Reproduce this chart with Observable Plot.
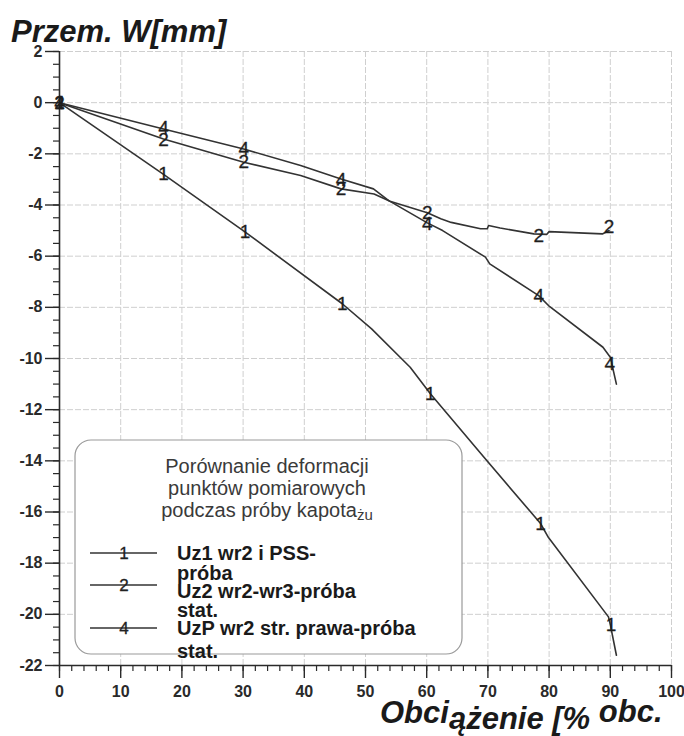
<!DOCTYPE html>
<html><head><meta charset="utf-8">
<script src="https://cdn.jsdelivr.net/npm/d3@7"></script>
<script src="https://cdn.jsdelivr.net/npm/@observablehq/plot@0.6"></script>
<style>
body{margin:0;background:#fff;font-family:"Liberation Sans",Arial,sans-serif;}
#wrap{position:relative;width:684px;height:736px;overflow:hidden;background:#fff}
#title{height:45px;box-sizing:border-box;padding:16px 0 0 11px;font:italic bold 31px "Liberation Sans",Arial,sans-serif;line-height:31px;color:#1a1a1a;white-space:nowrap}
</style></head><body>
<div id="wrap"><div id="title">Przem. W[mm]</div><div id="chart"></div></div>
<script>
// ---- tick labels ----
const xTicks = [0,10,20,30,40,50,60,70,80,90,100];
const yTicks = [2,0,-2,-4,-6,-8,-10,-12,-14,-16,-18,-20,-22];

// ---- series ----
const seriesIds = ["1","2","4"];
const seriesNames = [["Uz1 wr2 i PSS-","próba"],["Uz2 wr2-wr3-próba","stat."],["UzP wr2 str. prawa-próba","stat."]];
const legendTitle = ["Porównanie deformacji","punktów pomiarowych","podczas próby kapota"];
const legendTitleSub = "żu";
const xLabelParts = ["Obci","ążenie [%"," obc."];

const s1X = [0,17,30.3,46.2,51,57.3,60.6,69.5,78.6,79.9,89.7,90,91];
const s1Y = [0,-2.8,-5.05,-7.86,-8.84,-10.34,-11.38,-13.9,-16.45,-17.0,-20.1,-20.4,-21.6];
const s2X = [0,17,30.1,39.4,46,51.4,54,60.1,62.3,64,68.8,69.9,70.1,72,77.5,79.6,80,88.7,89.8];
const s2Y = [0,-1.42,-2.33,-2.85,-3.37,-3.57,-3.85,-4.3,-4.54,-4.68,-4.93,-4.93,-4.8,-4.9,-5.13,-5.15,-5.04,-5.13,-5.0];
const s4X = [0,17,30.1,39.4,46,51.3,53.8,60.1,62.6,69.6,70.3,78.3,79.9,88.8,90,91];
const s4Y = [0,-1.03,-1.81,-2.46,-2.98,-3.37,-3.83,-4.7,-5.0,-6.04,-6.3,-7.54,-7.93,-9.56,-9.95,-11.0];

// ---- number markers on the curves ----
const m1X = [0,17,30.3,46.2,60.6,78.6,90.1];
const m1Y = [0,-2.8,-5.05,-7.86,-11.38,-16.45,-20.4];
const m2X = [0,17,30.1,46,60.1,78.3,89.8];
const m2Y = [0,-1.45,-2.33,-3.37,-4.3,-5.2,-4.85];
const m4X = [0,17,30.1,46,60.1,78.3,89.9];
const m4Y = [0,-1.0,-1.82,-3.0,-4.72,-7.55,-10.2];

const seriesX = [s1X,s2X,s4X], seriesY = [s1Y,s2Y,s4Y];
const markX = [m1X,m2X,m4X], markY = [m1Y,m2Y,m4Y];

const lineRows = seriesIds.flatMap((id,i)=>seriesX[i].map((x,j)=>({x, y:seriesY[i][j], id})));
// draw order 1,4,2 so "2" sits on top at origin
const markOrder = [0,2,1];
const markRows = markOrder.flatMap(i=>markX[i].map((x,j)=>({x, y:markY[i][j], id:seriesIds[i]})));

const FONT = "'Liberation Sans', Arial, sans-serif";
const INK = "#2a2a2a";

const plot = Plot.plot({
  width:684, height:691,
  marginTop:6, marginBottom:71, marginLeft:59, marginRight:13,
  style:{fontFamily:FONT, background:"white", overflow:"visible"},
  x:{domain:[0,100], label:null},
  y:{domain:[-22,2], label:null},
  marks:[
    Plot.gridX(xTicks.slice(1), {stroke:"#cfcfcf", strokeOpacity:1, strokeDasharray:"6,2"}),
    Plot.gridY(yTicks.slice(0,-1), {stroke:"#cfcfcf", strokeOpacity:1, strokeDasharray:"6,2"}),
    Plot.axisY(d3.range(-22,2.001,0.5), {tickSize:6, text:null, stroke:INK, strokeWidth:1.2, label:null}),
    Plot.axisY(yTicks, {tickSize:14, text:null, stroke:INK, strokeWidth:1.4, label:null}),
    Plot.axisX(d3.range(0,100.001,2), {tickSize:6, text:null, stroke:INK, strokeWidth:1.2, label:null}),
    Plot.axisX(xTicks, {tickSize:13, text:null, stroke:INK, strokeWidth:1.4, label:null}),
    // tick labels
    Plot.text(yTicks, {y:d=>d, text:d=>String(d), frameAnchor:"left", textAnchor:"end", dx:-17,
      fontSize:16, fontWeight:"bold", fill:INK}),
    Plot.text(xTicks, {x:d=>d, text:d=>String(d), frameAnchor:"bottom", lineAnchor:"top", dy:20,
      fontSize:16, fontWeight:"bold", fill:INK}),
    Plot.ruleX([0], {stroke:INK, strokeWidth:1.6}),
    Plot.ruleY([-22], {stroke:INK, strokeWidth:1.6}),
    Plot.line(lineRows, {x:"x", y:"y", z:"id", stroke:"#333", strokeWidth:1.6}),
    Plot.text(markRows, {x:"x", y:"y", text:"id", fontSize:19, fill:"#1e1e1e", stroke:"#1e1e1e", strokeWidth:0.3})
  ]
});
plot.style.overflow = "visible";
document.getElementById("chart").appendChild(plot);

const svg = d3.select(plot);

// x axis label
const xl = svg.append("text")
  .attr("x",380).attr("y",678).attr("text-anchor","start")
  .attr("font-family",FONT).attr("font-size",31).attr("font-weight","bold").attr("font-style","italic")
  .attr("fill","#1a1a1a");
xl.append("tspan").text(xLabelParts[0]);
xl.append("tspan").attr("dy",6).text(xLabelParts[1]);
xl.append("tspan").attr("dy",-7).text(xLabelParts[2]);

// legend
const lg = svg.append("g").attr("font-family",FONT).attr("text-anchor","start");
lg.append("rect").attr("x",75).attr("y",395).attr("width",387).attr("height",214)
  .attr("rx",16).attr("ry",16).attr("fill","white").attr("stroke","#9a9a9a").attr("stroke-width",1.2);
const tY = [428,450,472];
legendTitle.forEach((t,i)=>{
  const tx = lg.append("text").attr("x",267).attr("y",tY[i]).attr("text-anchor","middle")
    .attr("font-size",20).attr("fill","#3a3a3a").text(t);
  if(i===2) tx.append("tspan").attr("font-size",15).attr("dy",3).text(legendTitleSub);
});
const lineYs = [508,540,583];
const textYs = [[515,535],[553,572],[590,613]];
seriesIds.forEach((id,i)=>{
  lg.append("line").attr("x1",90).attr("x2",157).attr("y1",lineYs[i]).attr("y2",lineYs[i])
    .attr("stroke","#333").attr("stroke-width",1.5);
  lg.append("text").attr("x",124).attr("y",lineYs[i]+6).attr("text-anchor","middle")
    .attr("font-size",17).attr("fill","#222").attr("stroke","#222").attr("stroke-width",0.3).text(id);
  seriesNames[i].forEach((n,k)=>{
    lg.append("text").attr("x",177).attr("y",textYs[i][k]).attr("text-anchor","start").attr("font-size",20)
      .attr("font-weight","bold").attr("fill","#1a1a1a").text(n);
  });
});
</script>
</body></html>
